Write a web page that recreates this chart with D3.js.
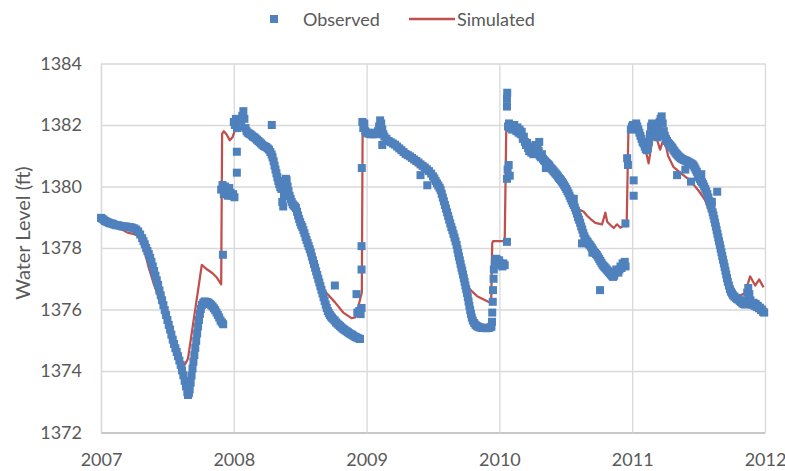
<!DOCTYPE html>
<html>
<head>
<meta charset="utf-8">
<script src="https://cdn.jsdelivr.net/npm/d3@7"></script>
<style>
  body { margin: 0; background: #fff; }
  text { font-family: Lato, "Open Sans", sans-serif; fill: #595959; }
</style>
</head>
<body>
<svg id="chart" width="785" height="471"></svg>
<script>
// Axis ticks
const yearTicks = [2007, 2008, 2009, 2010, 2011, 2012];
const levelTicks = [1372, 1374, 1376, 1378, 1380, 1382, 1384];
const seriesNames = ["Observed", "Simulated"];
const axisTitle = "Water Level (ft)";

// Observed water level, [decimal year, ft], one array per year
const obs2007 = [[2007.000,1378.98],[2007.010,1378.95],[2007.020,1378.92],[2007.030,1378.88],[2007.040,1378.86],[2007.050,1378.84],[2007.060,1378.82],[2007.070,1378.80],[2007.080,1378.80],[2007.090,1378.78],[2007.100,1378.76],[2007.115,1378.74],[2007.130,1378.74],[2007.145,1378.72],[2007.160,1378.70],[2007.175,1378.70],[2007.190,1378.70],[2007.205,1378.68],[2007.220,1378.68],[2007.235,1378.66],[2007.250,1378.64],[2007.265,1378.60],[2007.280,1378.54],[2007.295,1378.44],[2007.310,1378.32],[2007.320,1378.22],[2007.330,1378.12],[2007.340,1378.00],[2007.350,1377.90],[2007.360,1377.80],[2007.370,1377.68],[2007.380,1377.55],[2007.390,1377.40],[2007.400,1377.25],[2007.410,1377.10],[2007.420,1376.95],[2007.430,1376.80],[2007.440,1376.62],[2007.450,1376.46],[2007.460,1376.30],[2007.470,1376.14],[2007.480,1375.98],[2007.490,1375.82],[2007.500,1375.66],[2007.510,1375.50],[2007.520,1375.35],[2007.530,1375.18],[2007.540,1375.02],[2007.550,1374.88],[2007.560,1374.74],[2007.570,1374.62],[2007.580,1374.48],[2007.590,1374.34],[2007.600,1374.20],[2007.610,1374.02],[2007.620,1373.86],[2007.630,1373.68],[2007.640,1373.50],[2007.650,1373.32],[2007.655,1373.22],[2007.662,1373.28],[2007.668,1373.40],[2007.675,1373.62],[2007.682,1373.85],[2007.689,1374.08],[2007.696,1374.30],[2007.703,1374.52],[2007.710,1374.75],[2007.717,1374.98],[2007.724,1375.22],[2007.731,1375.45],[2007.738,1375.66],[2007.745,1375.86],[2007.752,1376.02],[2007.760,1376.15],[2007.770,1376.22],[2007.780,1376.26],[2007.790,1376.25],[2007.800,1376.24],[2007.810,1376.22],[2007.820,1376.18],[2007.830,1376.14],[2007.840,1376.10],[2007.850,1376.04],[2007.860,1375.98],[2007.870,1375.90],[2007.880,1375.82],[2007.890,1375.74],[2007.900,1375.64],[2007.910,1375.58],[2007.920,1375.52],
  [2007.918,1377.78],[2007.905,1379.90],[2007.915,1380.05],[2007.925,1379.75],[2007.935,1380.00],[2007.945,1379.85],[2007.955,1379.70],[2007.965,1379.95],[2007.975,1379.80],[2007.985,1379.70],[2007.995,1379.75],[2008.005,1379.65],[2008.023,1380.45],[2008.023,1381.13]];

const obs2008 = [[2008.000,1382.10],[2008.008,1382.00],[2008.016,1382.20],[2008.024,1381.90],[2008.032,1382.05],[2008.040,1381.95],[2008.048,1382.15],[2008.056,1382.00],[2008.064,1382.30],[2008.072,1382.45],[2008.080,1382.20],[2008.088,1381.90],[2008.096,1381.80],[2008.105,1381.75],[2008.115,1381.72],[2008.125,1381.70],[2008.135,1381.66],[2008.145,1381.62],[2008.155,1381.60],[2008.165,1381.56],[2008.175,1381.52],[2008.185,1381.48],[2008.195,1381.44],[2008.205,1381.40],[2008.215,1381.36],[2008.225,1381.32],[2008.235,1381.30],[2008.245,1381.28],[2008.255,1381.24],[2008.265,1381.20],[2008.275,1381.12],[2008.285,1381.04],[2008.292,1380.95],[2008.300,1380.82],[2008.307,1380.68],[2008.314,1380.55],[2008.321,1380.43],[2008.328,1380.30],[2008.335,1380.18],[2008.342,1380.07],[2008.350,1379.98],[2008.358,1379.92],[2008.365,1379.50],[2008.372,1379.35],[2008.378,1379.70],[2008.385,1380.05],[2008.392,1380.25],[2008.398,1380.20],[2008.405,1380.00],[2008.412,1379.85],[2008.420,1379.70],[2008.428,1379.60],[2008.436,1379.50],[2008.444,1379.42],[2008.452,1379.38],[2008.460,1379.35],[2008.468,1379.30],[2008.476,1379.18],[2008.484,1379.06],[2008.492,1378.94],[2008.500,1378.84],[2008.508,1378.75],[2008.516,1378.68],[2008.524,1378.58],[2008.532,1378.48],[2008.540,1378.36],[2008.548,1378.26],[2008.556,1378.16],[2008.564,1378.06],[2008.572,1377.96],[2008.580,1377.85],[2008.588,1377.72],[2008.596,1377.60],[2008.604,1377.48],[2008.612,1377.36],[2008.620,1377.24],[2008.628,1377.12],[2008.636,1377.00],[2008.644,1376.88],[2008.652,1376.76],[2008.660,1376.64],[2008.668,1376.52],[2008.676,1376.40],[2008.684,1376.28],[2008.692,1376.16],[2008.700,1376.05],[2008.708,1375.95],[2008.716,1375.88],[2008.724,1375.82],[2008.732,1375.77],[2008.740,1375.73],[2008.750,1375.68],[2008.760,1375.64],[2008.770,1375.58],[2008.780,1375.54],[2008.790,1375.50],[2008.800,1375.46],[2008.810,1375.42],[2008.820,1375.38],[2008.830,1375.35],[2008.840,1375.32],[2008.850,1375.29],[2008.860,1375.26],[2008.870,1375.23],[2008.880,1375.20],[2008.890,1375.18],[2008.900,1375.15],[2008.910,1375.12],[2008.920,1375.10],[2008.930,1375.08],[2008.940,1375.06],[2008.950,1375.04],
  [2008.286,1382.00],[2008.761,1376.78],[2008.924,1376.50],[2008.930,1375.90],[2008.945,1375.95],[2008.955,1375.85],[2008.962,1376.05],[2008.962,1377.30],[2008.962,1378.06],[2008.964,1380.60]];

const obs2009 = [[2008.968,1382.10],[2008.975,1381.90],[2008.983,1382.05],[2008.990,1381.80],[2008.998,1381.75],[2009.006,1381.75],[2009.014,1381.72],[2009.022,1381.72],[2009.030,1381.70],[2009.038,1381.72],[2009.046,1381.70],[2009.054,1381.72],[2009.062,1381.75],[2009.070,1381.70],[2009.078,1381.72],[2009.086,1381.80],[2009.094,1381.95],[2009.102,1382.15],[2009.110,1382.05],[2009.118,1381.85],[2009.126,1381.70],[2009.134,1381.62],[2009.150,1381.55],[2009.166,1381.48],[2009.182,1381.44],[2009.198,1381.40],[2009.214,1381.36],[2009.230,1381.30],[2009.246,1381.24],[2009.262,1381.18],[2009.278,1381.12],[2009.294,1381.06],[2009.310,1381.02],[2009.326,1380.98],[2009.342,1380.93],[2009.358,1380.88],[2009.374,1380.83],[2009.390,1380.78],[2009.406,1380.72],[2009.422,1380.67],[2009.438,1380.62],[2009.454,1380.56],[2009.470,1380.50],[2009.486,1380.42],[2009.500,1380.33],[2009.510,1380.26],[2009.520,1380.18],[2009.530,1380.10],[2009.540,1380.03],[2009.550,1379.96],[2009.558,1379.88],[2009.566,1379.76],[2009.574,1379.64],[2009.582,1379.52],[2009.590,1379.40],[2009.598,1379.28],[2009.606,1379.16],[2009.614,1379.04],[2009.622,1378.92],[2009.630,1378.80],[2009.638,1378.68],[2009.646,1378.58],[2009.654,1378.46],[2009.662,1378.34],[2009.670,1378.22],[2009.678,1378.10],[2009.684,1377.96],[2009.690,1377.84],[2009.696,1377.72],[2009.702,1377.60],[2009.708,1377.48],[2009.714,1377.36],[2009.720,1377.26],[2009.726,1377.14],[2009.732,1377.02],[2009.738,1376.90],[2009.744,1376.78],[2009.750,1376.66],[2009.756,1376.54],[2009.762,1376.40],[2009.768,1376.26],[2009.774,1376.12],[2009.780,1375.98],[2009.786,1375.86],[2009.792,1375.74],[2009.800,1375.64],[2009.810,1375.56],[2009.820,1375.50],[2009.830,1375.46],[2009.840,1375.44],[2009.850,1375.42],[2009.860,1375.41],[2009.870,1375.40],[2009.880,1375.40],[2009.890,1375.40],[2009.900,1375.39],[2009.910,1375.40],[2009.920,1375.40],[2009.930,1375.42],[2009.940,1375.44],
  [2009.118,1381.35],[2009.406,1380.37],[2009.457,1380.04],
  [2009.944,1375.60],[2009.946,1375.90],[2009.950,1376.25],[2009.952,1376.63],[2009.956,1377.00],[2009.958,1377.30],[2009.966,1377.55],[2009.974,1377.65],[2009.982,1377.62],[2009.990,1377.55],[2009.998,1377.60],[2010.006,1377.50],[2010.014,1377.45],[2010.022,1377.40],[2010.030,1377.50],[2010.040,1377.44],[2010.057,1378.20],[2010.057,1380.25],[2010.062,1380.55],[2010.070,1380.70],[2010.078,1380.35],[2010.057,1382.60],[2010.057,1382.85],[2010.059,1383.05]];

const obs2010 = [[2010.065,1381.95],[2010.072,1382.05],[2010.080,1381.90],[2010.088,1382.00],[2010.096,1381.85],[2010.104,1381.95],[2010.112,1382.00],[2010.120,1381.90],[2010.128,1381.80],[2010.136,1381.92],[2010.144,1381.75],[2010.152,1381.85],[2010.160,1381.70],[2010.168,1381.78],[2010.176,1381.55],[2010.184,1381.62],[2010.192,1381.45],[2010.200,1381.35],[2010.208,1381.42],[2010.216,1381.25],[2010.224,1381.15],[2010.232,1381.30],[2010.240,1381.10],[2010.248,1381.20],[2010.256,1381.05],[2010.264,1381.25],[2010.272,1381.35],[2010.280,1381.20],[2010.288,1381.30],[2010.296,1381.15],[2010.304,1381.00],[2010.312,1380.95],[2010.320,1381.05],[2010.328,1380.90],[2010.336,1380.85],[2010.344,1380.82],[2010.352,1380.78],[2010.360,1380.75],[2010.368,1380.72],[2010.376,1380.68],[2010.384,1380.62],[2010.392,1380.58],[2010.400,1380.55],[2010.408,1380.50],[2010.416,1380.46],[2010.424,1380.42],[2010.432,1380.38],[2010.440,1380.33],[2010.448,1380.28],[2010.456,1380.24],[2010.464,1380.20],[2010.472,1380.15],[2010.480,1380.10],[2010.488,1380.04],[2010.496,1379.98],[2010.504,1379.92],[2010.512,1379.85],[2010.520,1379.78],[2010.528,1379.70],[2010.536,1379.62],[2010.544,1379.54],[2010.552,1379.46],[2010.560,1379.40],[2010.568,1379.32],[2010.576,1379.22],[2010.584,1379.12],[2010.592,1379.00],[2010.600,1378.92],[2010.608,1378.82],[2010.616,1378.70],[2010.624,1378.60],[2010.632,1378.48],[2010.640,1378.38],[2010.648,1378.30],[2010.656,1378.24],[2010.664,1378.20],[2010.672,1378.14],[2010.680,1378.10],[2010.688,1378.05],[2010.696,1378.00],[2010.704,1377.94],[2010.712,1377.88],[2010.720,1377.84],[2010.728,1377.80],[2010.736,1377.76],[2010.744,1377.70],[2010.752,1377.64],[2010.760,1377.58],[2010.768,1377.52],[2010.776,1377.46],[2010.784,1377.42],[2010.792,1377.38],[2010.800,1377.34],[2010.808,1377.30],[2010.816,1377.26],[2010.824,1377.22],[2010.832,1377.18],[2010.840,1377.14],[2010.848,1377.10],[2010.856,1377.06],[2010.864,1377.10],[2010.872,1377.20],[2010.880,1377.30],[2010.888,1377.26],[2010.896,1377.20],[2010.904,1377.30],[2010.912,1377.40],[2010.920,1377.35],[2010.928,1377.50],[2010.936,1377.45],[2010.944,1377.55],[2010.950,1377.40],
  [2010.622,1378.15],[2010.758,1376.63],[2010.300,1381.45],[2010.350,1380.60],[2010.560,1379.60],[2010.700,1377.85],
  [2010.949,1378.80],[2010.962,1380.92],[2010.968,1380.70],[2011.011,1380.20],[2011.011,1379.70]];

const obs2011 = [[2010.990,1381.85],[2010.998,1381.95],[2011.006,1382.00],[2011.014,1381.90],[2011.022,1381.95],[2011.030,1382.05],[2011.038,1381.95],[2011.046,1381.85],[2011.054,1381.75],[2011.062,1381.65],[2011.070,1381.55],[2011.078,1381.45],[2011.086,1381.40],[2011.094,1381.30],[2011.102,1381.22],[2011.110,1381.18],[2011.118,1381.25],[2011.126,1381.45],[2011.134,1381.70],[2011.142,1381.95],[2011.150,1382.05],[2011.158,1381.85],[2011.166,1381.75],[2011.174,1381.70],[2011.182,1381.85],[2011.190,1381.60],[2011.198,1381.95],[2011.206,1382.10],[2011.214,1382.20],[2011.222,1382.28],[2011.230,1382.05],[2011.238,1381.80],[2011.246,1381.65],[2011.254,1381.55],[2011.262,1381.48],[2011.270,1381.42],[2011.278,1381.38],[2011.286,1381.34],[2011.294,1381.30],[2011.302,1381.26],[2011.310,1381.20],[2011.318,1381.15],[2011.326,1381.10],[2011.334,1381.06],[2011.342,1381.02],[2011.350,1380.98],[2011.358,1380.95],[2011.366,1380.92],[2011.374,1380.90],[2011.382,1380.88],[2011.390,1380.86],[2011.398,1380.85],[2011.406,1380.84],[2011.414,1380.82],[2011.422,1380.80],[2011.430,1380.78],[2011.438,1380.76],[2011.446,1380.74],[2011.454,1380.72],[2011.462,1380.68],[2011.470,1380.62],[2011.478,1380.55],[2011.486,1380.48],[2011.494,1380.40],[2011.502,1380.30],[2011.510,1380.24],[2011.518,1380.18],[2011.526,1380.14],[2011.534,1380.08],[2011.542,1380.00],[2011.550,1379.92],[2011.558,1379.84],[2011.566,1379.75],[2011.574,1379.64],[2011.582,1379.52],[2011.590,1379.40],[2011.598,1379.28],[2011.606,1379.16],[2011.612,1379.06],[2011.618,1378.94],[2011.624,1378.82],[2011.630,1378.70],[2011.636,1378.58],[2011.642,1378.46],[2011.648,1378.34],[2011.654,1378.22],[2011.660,1378.10],[2011.666,1377.98],[2011.672,1377.86],[2011.678,1377.74],[2011.684,1377.62],[2011.690,1377.50],[2011.696,1377.38],[2011.702,1377.26],[2011.708,1377.14],[2011.714,1377.02],[2011.720,1376.90],[2011.728,1376.78],[2011.736,1376.66],[2011.744,1376.58],[2011.752,1376.52],[2011.760,1376.46],[2011.770,1376.42],[2011.780,1376.38],[2011.790,1376.34],[2011.800,1376.32],[2011.810,1376.28],[2011.820,1376.24],[2011.830,1376.20],[2011.840,1376.18],[2011.850,1376.16],[2011.858,1376.30],[2011.866,1376.55],[2011.874,1376.70],[2011.882,1376.50],[2011.890,1376.30],[2011.898,1376.20],[2011.906,1376.15],[2011.914,1376.22],[2011.922,1376.12],[2011.930,1376.18],[2011.938,1376.08],[2011.946,1376.12],[2011.954,1376.04],[2011.962,1376.06],[2011.970,1375.98],[2011.978,1376.00],[2011.986,1375.92],[2011.994,1375.90],
  [2011.338,1380.37],[2011.443,1380.16],[2011.640,1379.83],[2011.400,1380.55],[2011.520,1380.40],[2011.600,1379.50]];

// Simulated water level, [decimal year, ft]
const simulated = [[2007.000,1379.00],[2007.050,1378.88],[2007.100,1378.75],[2007.150,1378.62],[2007.200,1378.50],[2007.250,1378.45],[2007.280,1378.40],[2007.300,1378.30],[2007.330,1377.85],[2007.360,1377.35],[2007.400,1376.80],[2007.450,1376.20],[2007.500,1375.55],[2007.550,1374.90],[2007.600,1374.35],[2007.630,1374.20],[2007.655,1374.40],[2007.759,1377.45],[2007.800,1377.30],[2007.840,1377.18],[2007.870,1377.05],[2007.905,1376.82],[2007.912,1381.72],[2007.925,1381.80],[2007.945,1381.70],[2007.970,1381.50],[2007.990,1381.60],[2008.010,1381.85],[2008.050,1381.95],[2008.100,1381.75],[2008.150,1381.62],[2008.200,1381.45],[2008.250,1381.28],[2008.300,1380.75],[2008.350,1379.98],[2008.400,1379.95],[2008.450,1379.40],[2008.500,1378.85],[2008.550,1378.25],[2008.600,1377.55],[2008.650,1376.85],[2008.698,1376.54],[2008.761,1376.24],[2008.824,1375.90],[2008.886,1375.72],[2008.915,1375.74],[2008.935,1376.05],[2008.955,1376.40],[2008.964,1376.55],[2008.970,1381.72],[2009.000,1381.75],[2009.080,1381.72],[2009.150,1381.55],[2009.250,1381.22],[2009.350,1380.90],[2009.450,1380.58],[2009.500,1380.33],[2009.550,1379.95],[2009.600,1379.25],[2009.650,1378.55],[2009.700,1377.70],[2009.740,1377.00],[2009.770,1376.70],[2009.796,1376.58],[2009.833,1376.43],[2009.870,1376.35],[2009.909,1376.27],[2009.938,1376.20],[2009.946,1378.15],[2009.952,1378.22],[2010.040,1378.22],[2010.052,1381.95],[2010.070,1381.95],[2010.120,1381.95],[2010.170,1381.80],[2010.210,1381.45],[2010.250,1381.15],[2010.300,1381.15],[2010.350,1380.80],[2010.400,1380.55],[2010.450,1380.30],[2010.500,1379.95],[2010.540,1379.60],[2010.575,1379.32],[2010.600,1379.25],[2010.635,1379.18],[2010.660,1379.05],[2010.685,1378.95],[2010.722,1378.82],[2010.773,1378.77],[2010.798,1379.15],[2010.812,1378.85],[2010.836,1378.75],[2010.861,1378.65],[2010.886,1378.77],[2010.911,1378.66],[2010.936,1378.72],[2010.958,1378.70],[2010.972,1381.95],[2011.010,1381.95],[2011.040,1381.85],[2011.080,1381.45],[2011.100,1381.20],[2011.124,1380.75],[2011.150,1381.50],[2011.175,1381.70],[2011.210,1381.20],[2011.240,1381.60],[2011.270,1381.00],[2011.310,1380.64],[2011.370,1380.42],[2011.436,1380.20],[2011.499,1379.87],[2011.549,1379.56],[2011.587,1379.13],[2011.620,1378.70],[2011.660,1378.00],[2011.700,1377.25],[2011.740,1376.65],[2011.780,1376.45],[2011.800,1376.43],[2011.851,1376.54],[2011.888,1377.08],[2011.926,1376.78],[2011.956,1376.98],[2011.989,1376.72]];

const observed = [].concat(obs2007, obs2008, obs2009, obs2010, obs2011);

const svg = d3.select("#chart");
const x = d3.scaleLinear().domain([2007, 2012]).range([101, 765]);
const y = d3.scaleLinear().domain([1372, 1384]).range([432.5, 63.5]);

const gridColor = "#d9d9d9";
const blue = "#4f81bd";
const red = "#c0504d";
const plotW = x.range()[1] - x.range()[0];
const plotH = y.range()[0] - y.range()[1];

// Horizontal gridlines and level labels
const yAxis = svg.append("g")
  .attr("transform", `translate(${x(2007)},0)`)
  .call(d3.axisLeft(y).tickValues(levelTicks).tickFormat(d3.format("d"))
    .tickSize(-plotW).tickSizeOuter(0).tickPadding(19));
yAxis.selectAll(".tick line").attr("stroke", gridColor).attr("stroke-width", 1.3);
yAxis.select(".domain").attr("stroke", gridColor).attr("stroke-width", 1.3);
yAxis.selectAll(".tick text").attr("font-size", 18).style("font-family", "Lato, sans-serif").attr("fill", "#595959");

// Vertical gridlines and year labels
const xAxis = svg.append("g")
  .attr("transform", `translate(0,${y(1372)})`)
  .call(d3.axisBottom(x).tickValues(yearTicks).tickFormat(d3.format("d"))
    .tickSize(-plotH).tickSizeOuter(0).tickPadding(21));
xAxis.selectAll(".tick line").attr("stroke", gridColor).attr("stroke-width", 1.3);
xAxis.select(".domain").attr("stroke", "#bfbfbf").attr("stroke-width", 1.3);
xAxis.selectAll(".tick text").attr("font-size", 18).style("font-family", "Lato, sans-serif").attr("fill", "#595959");

// Axis title
svg.append("text")
  .attr("transform", `translate(22,233) rotate(-90)`)
  .attr("text-anchor", "middle")
  .attr("dominant-baseline", "central")
  .attr("font-size", 20)
  .text(axisTitle);

// Simulated series line
const line = d3.line().x(d => x(d[0])).y(d => y(d[1]));
svg.append("path")
  .datum(simulated)
  .attr("fill", "none")
  .attr("stroke", red)
  .attr("stroke-width", 2.25)
  .attr("stroke-linejoin", "round")
  .attr("d", line);

// Observed series markers
const mk = 8;
svg.append("g").selectAll("rect")
  .data(observed)
  .join("rect")
  .attr("x", d => x(d[0]) - mk / 2)
  .attr("y", d => y(d[1]) - mk / 2)
  .attr("width", mk)
  .attr("height", mk)
  .attr("fill", blue);

// Legend
const legY = 19;
const leg = svg.append("g");
leg.append("rect").attr("x", 270).attr("y", legY - 4).attr("width", 8).attr("height", 8).attr("fill", blue);
leg.append("text").attr("x", 303).attr("y", legY).attr("dominant-baseline", "central")
  .attr("font-size", 18).text(seriesNames[0]);
leg.append("line").attr("x1", 409).attr("x2", 455).attr("y1", legY).attr("y2", legY)
  .attr("stroke", red).attr("stroke-width", 2.5);
leg.append("text").attr("x", 457).attr("y", legY).attr("dominant-baseline", "central")
  .attr("font-size", 18).text(seriesNames[1]);
</script>
</body>
</html>
